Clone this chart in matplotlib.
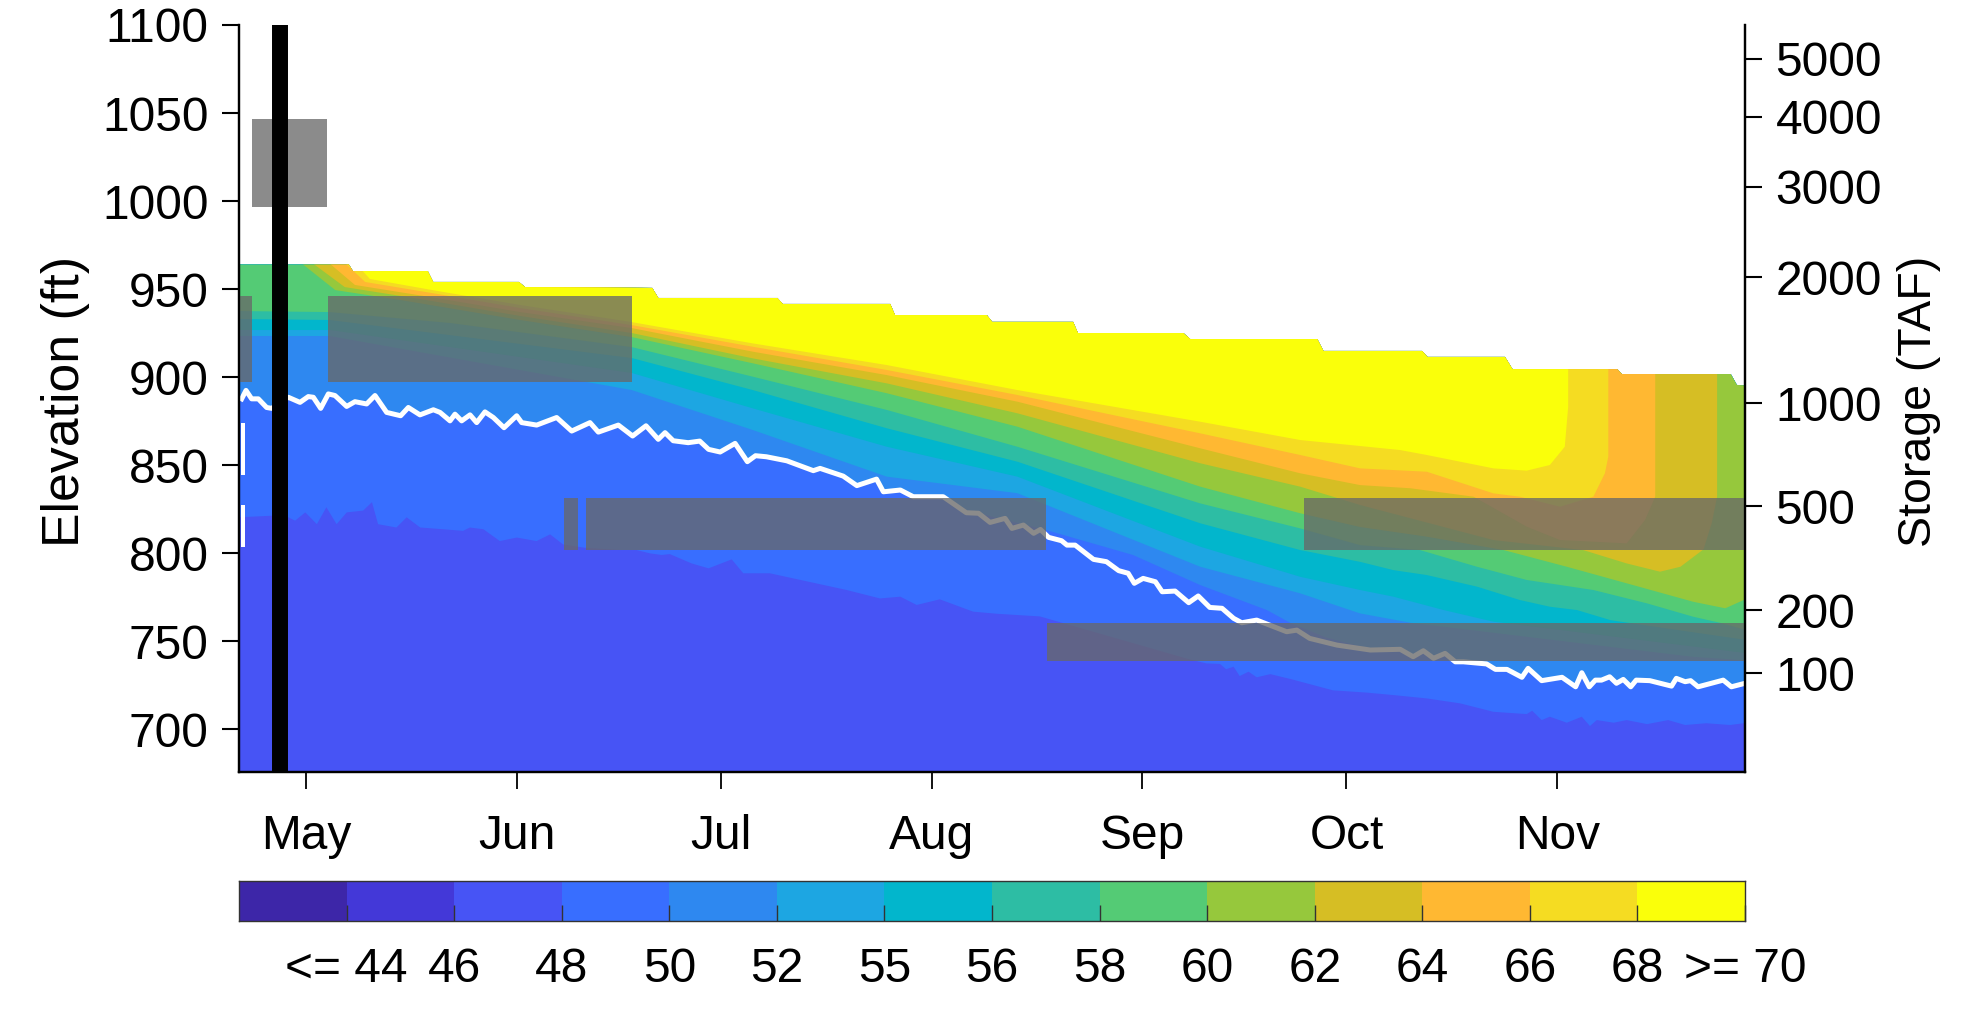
import matplotlib
matplotlib.use('Agg')
import matplotlib.pyplot as plt
from matplotlib.colors import ListedColormap
from matplotlib.patches import Polygon, Rectangle
import numpy as np

plt.rcParams['font.family'] = ['Liberation Sans', 'DejaVu Sans']

# x values are days counted from May 1
month_days = [0, 31, 61, 92, 123, 153, 184]
month_labels = ['May', 'Jun', 'Jul', 'Aug', 'Sep', 'Oct', 'Nov']
elev_ticks = [700, 750, 800, 850, 900, 950, 1000, 1050, 1100]
storage_labels = [100, 200, 500, 1000, 2000, 3000, 4000, 5000]
storage_elev = [731.8, 767.6, 826.6, 885, 956.8, 1008, 1047.8, 1080.7]

band_colors = ['#3d26a8', '#4338d8', '#4754f5', '#386eff', '#2e88f0', '#1da6e2', '#02b6cc',
               '#2dbda4', '#54cb75', '#96c83c', '#d6be24', '#ffb832', '#f5dc22', '#faff0a']
band_labels = ['<= 44', '46', '48', '50', '52', '55', '56', '58', '60', '62', '64', '66', '68', '>= 70']

# top of the reservoir pool
pool_days = [-10, 6.3, 6.9, 17.9, 18.7, 31.3, 32.2, 50.9, 51.8, 69.3, 70.1, 85.9, 86.6, 100.1, 100.9,
             112.8, 113.5, 129, 130, 148.7, 149.6, 164.1, 164.9, 176.3, 177.4, 192.8, 193.5, 209.5,
             210.4, 212]
pool_elev = [963.9, 963.9, 960.2, 960.2, 954, 954, 951.1, 950.6, 944.9, 944.9, 941.5, 941.5, 935.2,
             935.2, 931.3, 931.3, 925, 925, 921.6, 921.6, 914.8, 914.8, 911.4, 911.4, 904.5, 904.5,
             901.7, 901.7, 895.5, 895]

# isotherm between the 48 and 50 colours
iso50_days = [-10, -5, -2.6, -1.6, -0.1, 1.6, 3, 4.5, 6, 8.4, 9.7, 10.6, 13.3, 14.8, 16.8, 20.2, 23.1,
              24.1, 26.1, 28.5, 31, 33.9, 35.9, 37.8, 41, 46.2, 48.6, 50.6, 52.3, 53.5, 56.7, 59.2, 62.6,
              64.3, 68.2, 72.6, 79.5, 84.4, 87.4, 89.8, 93.2, 98.1, 101.6, 104.5, 107.9, 130, 132.4, 134.4,
              135.3, 136.4, 137.3, 138.6, 139.8, 141.8, 145, 151, 156, 159.9, 164.8, 169.7, 174.6, 179.5,
              180.3, 181.7, 182.9, 185.4, 187.6, 188.8, 189.8, 192.3, 194.2, 197.2, 200.3, 202.8, 205.9,
              209.4, 212]
iso50_elev = [820.3, 821.2, 820.3, 818.4, 823.1, 816.4, 826, 816.4, 823.1, 824.1, 828.9, 816.4, 814.5,
              820.3, 814.5, 813.5, 812.6, 814.5, 813.5, 806.8, 808.8, 806.8, 810.6, 804.9, 803, 801.7,
              801.7, 799.8, 798.9, 799.4, 794.1, 791.3, 796.4, 788.5, 788.5, 784.8, 779, 774.2, 775.2,
              770.5, 773.7, 766.7, 765.5, 764.8, 764, 739.5, 737.3, 737, 734, 735.4, 730.1, 732.6, 729.4,
              731.2, 728.2, 722, 720.7, 719.3, 717.4, 714.6, 709.8, 708.5, 710.4, 705.1, 707, 703.6, 707,
              701.7, 705.1, 703.6, 705.1, 702.8, 705.1, 702.3, 703.3, 702.3, 703.6]

# the white pool level line
line_days = [-9.46, -8.82, -7.99, -7.01, -5.79, -5.05, -2.6, -0.88, 0.34, 1.08, 2.16, 3.29, 4.26, 5.98,
             7.2, 8.92, 10.15, 11.86, 13.92, 15.05, 16.76, 18.73, 19.71, 21.18, 21.91, 22.89, 24.12,
             25.1, 26.32, 27.55, 29.12, 30.98, 31.72, 33.92, 36.86, 39.07, 41.76, 42.99, 45.93, 48.03,
             50, 51.8, 52.8, 54, 56.2, 57.9, 59.2, 60.9, 63.1, 64.9, 66.1, 67.7, 70.7, 74.6, 75.6, 79,
             81, 83.9, 84.9, 87.4, 89.3, 91.3, 93.7, 97.1, 98.9, 100.6, 102.8, 103.8, 105.5, 107, 108,
             109.2, 111.1, 111.9, 113.1, 115.8, 117.7, 119.5, 120.9, 121.8, 123.1, 124.9, 125.9, 127.8,
             129.8, 131.2, 132.9, 134.7, 136.4, 137.6, 139.8, 144.2, 145.7, 147.6, 151.6, 156.5, 160.9,
             162.8, 164.3, 165.8, 167.5, 169, 170.2, 173.6, 174.9, 176.6, 178.8, 179.7, 181.7, 184.7,
             186.7, 187.6, 188.7, 189.6, 190.5, 191.7, 192.7, 193.7, 194.8, 195.6, 197.6, 200.8, 201.5,
             202.8, 203.6, 204.7, 208.4, 209.6, 211.6]
line_elev = [887.6, 892.4, 887.6, 887.6, 882.7, 882.2, 888.5, 885.6, 888.9, 888.5, 882.2, 890.4, 889.5,
             883.3, 886, 884.7, 889.5, 879.9, 878, 882.7, 878.5, 881.4, 879.9, 875.1, 878.9, 875.1,
             878.5, 874.1, 880.2, 877, 871.2, 878, 874.1, 872.7, 877, 869.3, 874.1, 868.7, 872.7, 866.5,
             872.3, 864.6, 868.4, 863.8, 862.7, 863.6, 858.9, 857.4, 862.3, 851.9, 855.3, 854.7, 852.4,
             846.8, 848.1, 843.7, 838.3, 842, 834.8, 835.8, 832, 832, 832, 822.9, 822.6, 817.4, 819.7,
             814, 815.9, 811.2, 813.4, 808.9, 807, 804.5, 804.5, 796.4, 795.1, 790, 788.5, 782.8, 785.6,
             783.7, 778, 778.4, 771.8, 775.6, 769.1, 768.6, 762.9, 760.4, 761.9, 755.3, 756.2, 751.5,
             747.7, 744.9, 745.3, 741.1, 744.5, 740.2, 743, 738.2, 738.2, 737, 733.9, 733.9, 729.4,
             734.5, 727.5, 729.4, 724, 732, 724, 727.8, 727.8, 729.7, 726, 728.2, 724, 727.8, 727.5,
             724.4, 728.8, 726.9, 727.5, 724, 727.8, 724, 726]

# isotherm 50/52 where it leaves the white line
iso52_mid_days = [108.9, 121.6, 131.5, 141.3, 144.7, 150, 156]
iso52_mid_elev = [813, 798.9, 781.8, 767.6, 760.4, 752, 746]

iso55_days = [-10, 3.5, 47.9, 65.7, 85.4, 104.6, 131.5, 146.2, 155, 162.4, 204, 212]
iso55_elev = [923.3, 923.3, 892.6, 869.9, 843.4, 834, 792.2, 777.1, 765.7, 760.4, 741, 739]

iso56_days = [-10, 3.5, 47.9, 65.7, 85.4, 104.6, 131.5, 146.2, 155, 159.9, 167.3, 174.6, 212]
iso56_elev = [926.7, 926.7, 902.3, 882.2, 860.4, 843.4, 803.6, 786.5, 779, 775.2, 767.6, 761, 743]

iso58_days = [-10, 3.5, 47.9, 65.7, 85.4, 104.6, 131.5, 146.2, 155, 159.9, 164.8, 172.2, 178.5, 182.9,
              186.9, 191.8, 196.6, 212]
iso58_elev = [933, 932.4, 910.8, 892.6, 870.9, 851.9, 816.9, 801.7, 795, 790.3, 787.5, 780.9, 773.3,
              769.5, 767.6, 761.9, 759.1, 750.5]

iso60_days = [-10, 3.5, 21.2, 47.9, 65.7, 85.4, 104.6, 131.5, 146.2, 155, 163.8, 172.2, 179.5, 189.3,
              197.2, 204, 207.9, 212]
iso60_elev = [937.5, 936.9, 930.7, 917, 900.2, 881.3, 860.4, 828.2, 814, 804.5, 801.7, 792.2, 784.7,
              779, 771.4, 763.8, 760.4, 756]

iso62_days = [-2.4, 4.3, 13.8, 31.5, 47.9, 65.7, 85.4, 104.6, 131.5, 146.2, 155, 164.8, 176.1, 185.4,
              194.2, 204, 208.7, 211.4, 212]
iso62_elev = [970, 949.4, 943.8, 932.4, 922.7, 907.8, 890.8, 871.8, 837.7, 822.6, 814.8, 809.3, 801.7,
              792.2, 782.8, 772.3, 768.6, 773.3, 775]

iso64_days = [-0.9, 5.7, 16.8, 31.5, 47.9, 65.7, 85.4, 104.6, 131.5, 146.2, 155, 174.6, 187.8, 194.2,
              199.1, 202.1, 205.5, 206.7, 207.5, 207.5]
iso64_elev = [970, 951.1, 944.3, 934.7, 925, 910.6, 896.4, 879.4, 851, 837.7, 827.3, 807.4, 801.7, 794.1,
              789.4, 792.2, 802.1, 816.9, 832, 970]

iso66_days = [1.8, 7.2, 18.2, 31.5, 47.9, 65.7, 85.4, 104.6, 131.5, 146.2, 155, 162.4, 171.7, 179.5,
              184.4, 194.2, 196.9, 198.4, 198.4]
iso66_elev = [970, 952.3, 945.5, 936.9, 927.8, 914.4, 901.1, 886, 859.5, 845.3, 838.6, 836.8, 832, 815,
              807.4, 805.5, 818.8, 832, 970]

iso68_days = [4.3, 8.7, 19.3, 31.5, 47.9, 65.7, 85.4, 104.6, 131.5, 146.2, 155, 164.8, 174.6, 178.5,
              184.4, 189.3, 191, 191.5, 191.5]
iso68_elev = [970, 954, 947.2, 939.2, 929.5, 917.2, 904, 889.8, 868, 855.7, 848.1, 846.2, 833.9, 832,
              826.3, 832, 845.3, 854.7, 970]

iso70_days = [6, 9.4, 19.3, 31.5, 47.9, 65.7, 85.4, 104.6, 131.5, 146.2, 155, 160.9, 164.8, 174.6, 179.5,
              182.9, 185.1, 185.6, 185.6]
iso70_elev = [970, 955.7, 948.9, 940.9, 931.2, 919.1, 906.8, 892.6, 874.6, 864.2, 860.8, 858.5, 855.7,
              848.1, 846.8, 850, 860.4, 883.1, 970]

# grey boxes: start day, end day, low elevation, high elevation
box_start = [-7.9, -10, 3.2, 37.9, 41.2, 109, 146.8]
box_end = [3.1, -7.9, 47.9, 40, 108.8, 212, 212]
box_low = [996.6, 897, 897, 802, 802, 738.6, 802]
box_high = [1046.6, 946, 946, 831, 831, 760, 831]

# white slivers along the left edge of the colour field
sliver_low = [844.3, 803.4]
sliver_high = [873.9, 827.3]

release_day = -3.8

fig = plt.figure(figsize=(19.82, 10.09), dpi=100)
ax = fig.add_axes([239 / 1982, 1 - 772 / 1009, (1745 - 239) / 1982, (772 - 25) / 1009])

pool = np.column_stack([pool_days + [212, -10], pool_elev + [660, 660]])
pool_patch = Polygon(pool, closed=True, facecolor=band_colors[2], edgecolor='none', zorder=1)
ax.add_patch(pool_patch)


def fill_above(days, elev, color):
    pts = np.column_stack([list(days) + [days[-1], days[0]], list(elev) + [975, 975]])
    p = Polygon(pts, closed=True, facecolor=color, edgecolor='none', zorder=1)
    ax.add_patch(p)
    p.set_clip_path(pool_patch)


line_days_arr = np.array(line_days)
line_elev_arr = np.array(line_elev)
left = line_days_arr < 100
right = line_days_arr > 158
iso52_days = [-10] + list(line_days_arr[left]) + iso52_mid_days + list(line_days_arr[right]) + [212]
iso52_elev = [887.6] + list(line_elev_arr[left]) + iso52_mid_elev + list(line_elev_arr[right]) + [726]

fill_above(iso50_days, iso50_elev, band_colors[3])
fill_above(iso52_days, iso52_elev, band_colors[4])
fill_above(iso55_days, iso55_elev, band_colors[5])
fill_above(iso56_days, iso56_elev, band_colors[6])
fill_above(iso58_days, iso58_elev, band_colors[7])
fill_above(iso60_days, iso60_elev, band_colors[8])
fill_above(iso62_days, iso62_elev, band_colors[9])
fill_above(iso64_days, iso64_elev, band_colors[10])
fill_above(iso66_days, iso66_elev, band_colors[11])
fill_above(iso68_days, iso68_elev, band_colors[12])
fill_above(iso70_days, iso70_elev, band_colors[13])

ax.plot(line_days, line_elev, color='white', lw=3.6, zorder=2)

for i in range(len(sliver_low)):
    ax.add_patch(Rectangle((-9.6, sliver_low[i]), 0.6, sliver_high[i] - sliver_low[i],
                           facecolor='white', edgecolor='none', zorder=2))

for i in range(len(box_start)):
    ax.add_patch(Rectangle((box_start[i], box_low[i]), box_end[i] - box_start[i], box_high[i] - box_low[i],
                           facecolor='#686868', edgecolor='none', alpha=0.77, zorder=3))

ax.axvline(release_day, color='black', lw=11.5, solid_capstyle='butt', zorder=4)

ax.set_xlim(-9.85, 211.6)
ax.set_ylim(675.6, 1100)
ax.spines['top'].set_visible(False)
for s in ['left', 'bottom', 'right']:
    ax.spines[s].set_linewidth(1.6)
ax.set_xticks(month_days)
ax.set_xticklabels(month_labels)
ax.set_yticks(elev_ticks)
ax.tick_params(axis='x', length=12, width=1.3, labelsize=34.5, pad=18)
ax.tick_params(axis='y', length=12, width=1.5, labelsize=34.5, pad=10)

ax2 = ax.twinx()
ax2.set_ylim(675.6, 1100)
ax2.spines['top'].set_visible(False)
for s in ['left', 'bottom', 'right']:
    ax2.spines[s].set_linewidth(1.6)
ax2.set_yticks(storage_elev)
ax2.set_yticklabels(storage_labels)
ax2.tick_params(axis='y', length=12, width=1.5, labelsize=34.5, pad=10)

fig.text(66 / 1982, 1 - 401 / 1009, 'Elevation (ft)', rotation=90, fontsize=37.3, ha='center', va='center')
fig.text(1919 / 1982, 1 - 401 / 1009, 'Storage (TAF)', rotation=90, fontsize=33.5, ha='center', va='center')

# colour key under the chart
cax = fig.add_axes([239 / 1982, 1 - 921 / 1009, (1745 - 239) / 1982, 40 / 1009])
n = len(band_colors)
cax.pcolormesh(np.arange(n + 1), [0, 1], np.arange(n).reshape(1, n), cmap=ListedColormap(band_colors),
               vmin=-0.5, vmax=n - 0.5)
cax.set_xlim(0, n)
cax.set_ylim(0, 1)
cax.set_yticks([])
cax.set_xticks(np.arange(1, n + 1))
cax.set_xticklabels(band_labels)
cax.tick_params(axis='x', direction='in', length=11.5, width=1, labelsize=34.5, pad=19, color='#333333')
for s in cax.spines.values():
    s.set_linewidth(1)
    s.set_color('#333333')

fig.savefig('out.png', dpi=100)
